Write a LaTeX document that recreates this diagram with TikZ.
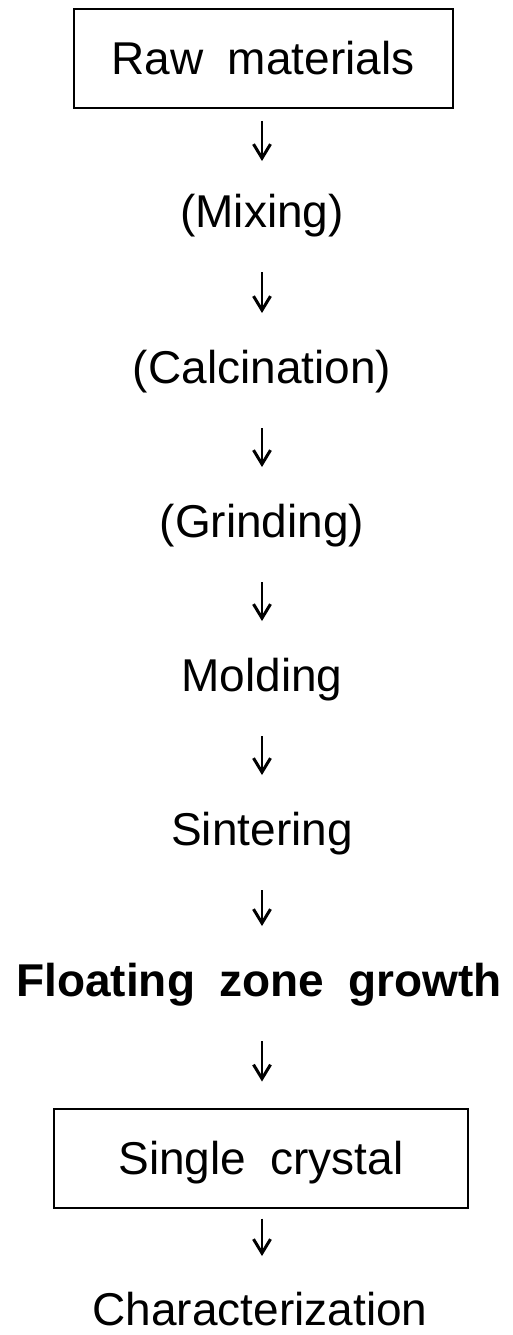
\documentclass[tikz,border=0pt]{standalone}
\usepackage{fontspec}
\setmainfont{Liberation Sans}[WordSpace=1.9]
\usetikzlibrary{arrows.meta}

\begin{document}
\begin{tikzpicture}[x=1pt,y=-1pt,font=\fontsize{46}{50}\selectfont,line width=2pt]
\tikzstyle{stage}=[inner sep=0,text height=33pt,text depth=0pt]
\tikzstyle{product}=[stage,draw,minimum height=99pt]
\tikzstyle{flow}=[line width=2.4pt,-{Straight Barb[length=14pt,width=17pt,line width=3pt]},shorten <=44pt,shorten >=36pt]
\useasboundingbox (0,0) rectangle (512,1335);
\node[product,minimum width=379pt] (raw) at (263,58.5) {Raw materials};
\node[stage,anchor=base] (mix) at (262,227) {(Mixing)};
\node[stage,anchor=base] (calc) at (262,383) {(Calcination)};
\node[stage,anchor=base] (grind) at (262,537) {(Grinding)};
\node[stage,anchor=base] (mold) at (262,691) {Molding};
\node[stage,anchor=base] (sinter) at (262,845) {Sintering};
\node[stage,anchor=base,font=\fontsize{46}{50}\selectfont\bfseries] (fz) at (259,996) {Floating zone growth};
\node[product,minimum width=414pt] (crystal) at (261,1158) {Single crystal};
\node[stage,anchor=base] (char) at (260,1325) {Characterization};
\draw[flow,shorten <=12pt,shorten >=32pt] (raw.south -| mix) -- (mix);
\draw[flow] (mix) -- (calc);
\draw[flow] (calc) -- (grind);
\draw[flow] (grind) -- (mold);
\draw[flow] (mold) -- (sinter);
\draw[flow] (sinter.south) -- (fz.north -| sinter);
\draw[flow,shorten >=26pt] (fz.south -| sinter) -- (crystal.north -| sinter);
\draw[flow,shorten <=10pt,shorten >=35pt] (crystal.south -| sinter) -- (char.north -| sinter);
\end{tikzpicture}
\end{document}
